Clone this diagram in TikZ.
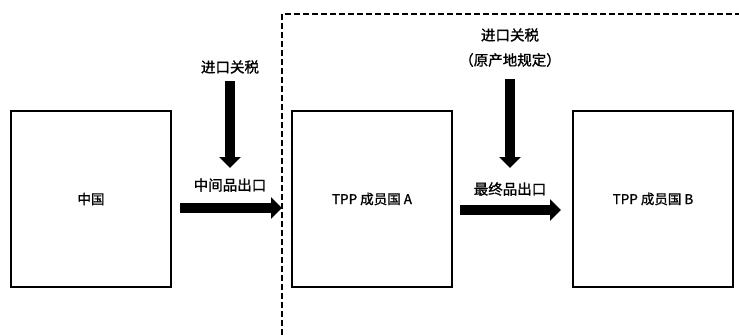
\documentclass[tikz,border=0pt]{standalone}
\usepackage{fontspec}
\newfontfamily\cjk[FakeBold=1.2]{Noto Sans CJK SC}
\usetikzlibrary{arrows.meta}
\tikzset{
  country/.style={draw, line width=2pt, minimum width=160pt, minimum height=176pt, inner sep=0pt, font=\cjk\fontsize{13.5}{16}\selectfont},
  lbl/.style={inner sep=1pt, font=\cjk\fontsize{14.5}{17}\selectfont},
  fatarrow/.style={line width=10.5pt, -{Triangle[width=21pt,length=11pt]}},
  border/.style={line width=1.8pt, dash pattern=on 6pt off 3pt}
}
\begin{document}
\begin{tikzpicture}[x=1pt,y=-1pt]
\useasboundingbox (0,0) rectangle (739,335);
% region boundary
\draw[border] (282,335) -- (282,14) -- (739,14);
% countries
\node[country] (cn) at (91,199) {中国};
\node[country] (ta) at (372,199) {TPP 成员国 A};
\node[country] (tb) at (653,199) {TPP 成员国 B};
% labels
\node[lbl] (tax1) at (230,67) {进口关税};
\node[lbl] (mid) at (230,185) {中间品出口};
\node[lbl] (tax2) at (510,35) {进口关税};
\node[lbl] (roo) at (510,60) {（原产地规定）};
\node[lbl] (fin) at (510,189) {最终品出口};
% arrows
\coordinate (cnout) at ([yshift=-9pt]cn.east);
\coordinate (tain) at ([yshift=-9pt]ta.west);
\coordinate (taout) at ([yshift=-11pt]ta.east);
\coordinate (tbin) at ([yshift=-11pt]tb.west);
\draw[fatarrow, shorten <=8pt, shorten >=9pt] (cnout) -- (tain);
\draw[fatarrow, shorten <=7pt, shorten >=11pt] (taout) -- (tbin);
\draw[fatarrow] (tax1.south) ++(0,6) coordinate (d1s) (d1s) -- (230,168) coordinate (d1e);
\draw[fatarrow] (roo.south) ++(0,11) coordinate (d2s) (d2s) -- (510,168) coordinate (d2e);
\end{tikzpicture}
\end{document}
